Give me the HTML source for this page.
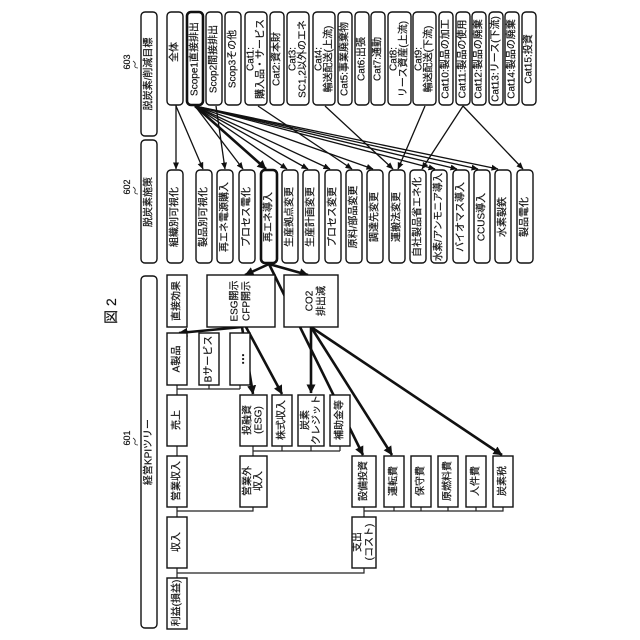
<!DOCTYPE html>
<html><head><meta charset="utf-8"><style>
html,body{margin:0;padding:0;background:#fff}
svg{display:block}
text{font-family:"Liberation Sans","Noto Sans CJK JP",sans-serif;font-size:10px;fill:#111;stroke:#111;stroke-width:.18;text-anchor:middle;dominant-baseline:central}
.r{fill:#fff;stroke:#111;stroke-width:1.4}
.s{fill:#fff;stroke:#111;stroke-width:1.4}
.c{fill:none;stroke:#222;stroke-width:1.2}
.a{fill:none;stroke:#111;stroke-width:1.3;marker-end:url(#m)}
.b{fill:none;stroke:#111;stroke-width:2.6;marker-end:url(#n)}
</style></head><body>
<svg width="640" height="640" viewBox="0 0 640 640" xmlns="http://www.w3.org/2000/svg">
<defs>
<marker id="m" markerUnits="userSpaceOnUse" markerWidth="7" markerHeight="6" refX="6.5" refY="3" orient="auto"><path d="M0 0L7 3L0 6Z" fill="#111"/></marker>
<marker id="n" markerUnits="userSpaceOnUse" markerWidth="9" markerHeight="9" refX="8.5" refY="4.5" orient="auto"><path d="M0 0L9 4.5L0 9Z" fill="#111"/></marker>
</defs>

<!-- connectors tree -->
<path class="c" d="M177 385V395M177 389H240M209 385V389M240 385V389M177 446V456M177 507V517M177 511H253V507M177 568V578M177 573H364V568"/>
<path class="c" d="M253 446V456M253 451H340M282 446V451M311 446V451M340 446V451"/>
<path class="c" d="M364 507V517M364 511H503V507M394 507V511M421 507V511M448 507V511M476 507V511"/>

<!-- arrows top -->
<path class="a" d="M176 105V169"/>
<path class="a" d="M176 106L203 169"/>
<path class="a" d="M216 106L225 169"/>
<path class="a" d="M195 106L243 169"/>
<path class="a" d="M195 106L287 169"/>
<path class="a" d="M195 106L308 169"/>
<path class="a" d="M195 106L330 169"/>
<path class="a" d="M195 106L373 169"/>
<path class="a" d="M258 106L352 169"/>
<path class="a" d="M325 106L393 169"/>
<path class="a" d="M425 106L398 169"/>
<path class="a" d="M463 106L422 169"/>
<path class="a" d="M463 106L523 169"/>
<path class="a" d="M195 106L435 169"/>
<path class="a" d="M195 106L457 169"/>
<path class="a" d="M195 106L478 169"/>
<path class="a" d="M195 106L498 169"/>
<path class="b" d="M195 106L266 169"/>
<!-- thick arrows -->
<path class="b" d="M269 264L245 275"/>
<path class="b" d="M269 264L308 275"/>
<path class="b" d="M269 264L363 455"/>
<path class="b" d="M311 327L392 455"/>
<path class="b" d="M311 327V393"/>
<path class="b" d="M311 327L502 455"/>
<path class="b" d="M242 327L179 333"/>
<path class="b" d="M242 327L253 394"/>
<path class="b" d="M246 327L282 394"/>

<!-- headers -->
<rect class="r" x="141" y="12" width="16" height="124" rx="4"/>
<rect class="r" x="141" y="140" width="16" height="123" rx="4"/>
<rect class="r" x="141" y="276" width="16" height="352" rx="4"/>
<text transform="translate(149,74) rotate(-90)">脱炭素/削減目標</text>
<text transform="translate(149,202) rotate(-90)">脱炭素施策</text>
<text transform="translate(149,452) rotate(-90)">経営KPIツリー</text>

<!-- numbers -->
<text transform="translate(127,62) rotate(-90)" style="font-size:9px">603</text>
<text transform="translate(127,187) rotate(-90)" style="font-size:9px">602</text>
<text transform="translate(127,438) rotate(-90)" style="font-size:9px">601</text>
<path class="c" style="stroke-width:.8" d="M133 61q3 2 2 4q-1 3 3 3M133 187q3 2 2 4q-1 3 3 3M133 438q3 2 2 4q-1 3 3 3"/>
<text transform="translate(111,311) rotate(-90)" style="font-size:14px">図 2</text>

<!-- top row -->
<rect class="r" x="167" y="12" width="16" height="93" rx="4"/><text transform="translate(175,52) rotate(-90)">全体</text>
<rect class="r" x="187" y="12" width="16" height="93" rx="4" style="stroke-width:2.6"/><text transform="translate(195,59) rotate(-90)">Scope1直接排出</text>
<rect class="r" x="206" y="12" width="16" height="93" rx="4"/><text transform="translate(214,59) rotate(-90)">Scop2間接排出</text>
<rect class="r" x="225" y="12" width="16" height="93" rx="4"/><text transform="translate(233,59) rotate(-90)">Scop3その他</text>
<rect class="r" x="245" y="12" width="22" height="93" rx="4"/><text transform="translate(251,59) rotate(-90)">Cat1:</text><text transform="translate(261,59) rotate(-90)">購入品・サービス</text>
<rect class="r" x="270" y="12" width="14" height="93" rx="4"/><text transform="translate(277,59) rotate(-90)">Cat2:資本財</text>
<rect class="r" x="287" y="12" width="22" height="93" rx="4"/><text transform="translate(293,59) rotate(-90)">Cat3:</text><text transform="translate(303,59) rotate(-90)">SC1,2以外のエネ</text>
<rect class="r" x="313" y="12" width="22" height="93" rx="4"/><text transform="translate(319,59) rotate(-90)">Cat4:</text><text transform="translate(329,59) rotate(-90)">輸送配送(上流)</text>
<rect class="r" x="338" y="12" width="14" height="93" rx="4"/><text transform="translate(345,59) rotate(-90)">Cat5:事業廃棄物</text>
<rect class="r" x="355" y="12" width="14" height="93" rx="4"/><text transform="translate(362,59) rotate(-90)">Cat6:出張</text>
<rect class="r" x="371" y="12" width="14" height="93" rx="4"/><text transform="translate(378,59) rotate(-90)">Cat7:通勤</text>
<rect class="r" x="388" y="12" width="23" height="93" rx="4"/><text transform="translate(394,59) rotate(-90)">Cat8:</text><text transform="translate(404,59) rotate(-90)">リース資産(上流)</text>
<rect class="r" x="413" y="12" width="23" height="93" rx="4"/><text transform="translate(419,59) rotate(-90)">Cat9:</text><text transform="translate(429,59) rotate(-90)">輸送配送(下流)</text>
<rect class="r" x="439" y="12" width="14" height="93" rx="4"/><text transform="translate(446,59) rotate(-90)">Cat10:製品の加工</text>
<rect class="r" x="456" y="12" width="14" height="93" rx="4"/><text transform="translate(463,59) rotate(-90)">Cat11:製品の使用</text>
<rect class="r" x="472" y="12" width="14" height="93" rx="4"/><text transform="translate(479,59) rotate(-90)">Cat12:製品の廃棄</text>
<rect class="r" x="489" y="12" width="14" height="93" rx="4"/><text transform="translate(496,59) rotate(-90)">Cat13:リース(下流)</text>
<rect class="r" x="505" y="12" width="14" height="93" rx="4"/><text transform="translate(512,59) rotate(-90)">Cat14:製品の廃棄</text>
<rect class="r" x="522" y="12" width="14" height="93" rx="4"/><text transform="translate(529,59) rotate(-90)">Cat15:投資</text>

<!-- middle row -->
<rect class="r" x="167" y="170" width="16" height="93" rx="4"/><text transform="translate(175,217) rotate(-90)">組織別可視化</text>
<rect class="r" x="196" y="170" width="16" height="93" rx="4"/><text transform="translate(204,217) rotate(-90)">製品別可視化</text>
<rect class="r" x="217" y="170" width="16" height="93" rx="4"/><text transform="translate(225,217) rotate(-90)">再エネ電源購入</text>
<rect class="r" x="239" y="170" width="16" height="93" rx="4"/><text transform="translate(247,217) rotate(-90)">プロセス電化</text>
<rect class="r" x="261" y="170" width="16" height="93" rx="4" style="stroke-width:2.6"/><text transform="translate(269,217) rotate(-90)">再エネ導入</text>
<rect class="r" x="282" y="170" width="16" height="93" rx="4"/><text transform="translate(290,217) rotate(-90)">生産拠点変更</text>
<rect class="r" x="303" y="170" width="16" height="93" rx="4"/><text transform="translate(311,217) rotate(-90)">生産計画変更</text>
<rect class="r" x="325" y="170" width="16" height="93" rx="4"/><text transform="translate(333,217) rotate(-90)">プロセス変更</text>
<rect class="r" x="346" y="170" width="16" height="93" rx="4"/><text transform="translate(354,217) rotate(-90)">原料/部品変更</text>
<rect class="r" x="367" y="170" width="16" height="93" rx="4"/><text transform="translate(375,217) rotate(-90)">調達先変更</text>
<rect class="r" x="389" y="170" width="16" height="93" rx="4"/><text transform="translate(397,217) rotate(-90)">運搬法変更</text>
<rect class="r" x="410" y="170" width="16" height="93" rx="4"/><text transform="translate(418,217) rotate(-90)">自社製品省エネ化</text>
<rect class="r" x="431" y="170" width="16" height="93" rx="4"/><text transform="translate(439,217) rotate(-90)" textLength="88" lengthAdjust="spacingAndGlyphs">水素/アンモニア導入</text>
<rect class="r" x="453" y="170" width="16" height="93" rx="4"/><text transform="translate(461,217) rotate(-90)">バイオマス導入</text>
<rect class="r" x="474" y="170" width="16" height="93" rx="4"/><text transform="translate(482,217) rotate(-90)">CCUS導入</text>
<rect class="r" x="495" y="170" width="16" height="93" rx="4"/><text transform="translate(503,217) rotate(-90)">水素製鉄</text>
<rect class="r" x="517" y="170" width="16" height="93" rx="4"/><text transform="translate(525,217) rotate(-90)">製品電化</text>

<!-- effects row -->
<rect class="s" x="167" y="275" width="20" height="52"/><text transform="translate(177,301) rotate(-90)">直接効果</text>
<rect class="s" x="207" y="275" width="68" height="52"/><text transform="translate(235,301) rotate(-90)">ESG開示</text><text transform="translate(247,301) rotate(-90)">CFP開示</text>
<rect class="s" x="284" y="275" width="54" height="52"/><text transform="translate(310,301) rotate(-90)">CO2</text><text transform="translate(322,301) rotate(-90)">排出減</text>

<rect class="s" x="167" y="333" width="20" height="52"/><text transform="translate(177,359) rotate(-90)">A製品</text>
<rect class="s" x="199" y="333" width="20" height="52"/><text transform="translate(209,359) rotate(-90)">Bサービス</text>
<rect class="s" x="230" y="333" width="20" height="52"/><text transform="translate(240,359) rotate(-90)" style="font-size:12px;font-weight:bold">…</text>

<rect class="s" x="167" y="395" width="20" height="51"/><text transform="translate(177,420) rotate(-90)">売上</text>
<rect class="s" x="240" y="395" width="27" height="51"/><text transform="translate(248,420) rotate(-90)">投融資</text><text transform="translate(259,420) rotate(-90)">(ESG)</text>
<rect class="s" x="272" y="395" width="20" height="51"/><text transform="translate(282,420) rotate(-90)">株式収入</text>
<rect class="s" x="298" y="395" width="26" height="51"/><text transform="translate(306,420) rotate(-90)">炭素</text><text transform="translate(317,420) rotate(-90)">クレジット</text>
<rect class="s" x="330" y="395" width="20" height="51"/><text transform="translate(340,420) rotate(-90)">補助金等</text>

<rect class="s" x="167" y="456" width="20" height="51"/><text transform="translate(177,481) rotate(-90)">営業収入</text>
<rect class="s" x="240" y="456" width="27" height="51"/><text transform="translate(248,481) rotate(-90)">営業外</text><text transform="translate(259,481) rotate(-90)">収入</text>
<rect class="s" x="352" y="456" width="24" height="51"/><text transform="translate(364,481) rotate(-90)">設備投資</text>
<rect class="s" x="384" y="456" width="20" height="51"/><text transform="translate(394,481) rotate(-90)">運転費</text>
<rect class="s" x="411" y="456" width="20" height="51"/><text transform="translate(421,481) rotate(-90)">保守費</text>
<rect class="s" x="438" y="456" width="20" height="51"/><text transform="translate(448,481) rotate(-90)">原燃料費</text>
<rect class="s" x="466" y="456" width="20" height="51"/><text transform="translate(476,481) rotate(-90)">人件費</text>
<rect class="s" x="493" y="456" width="20" height="51"/><text transform="translate(503,481) rotate(-90)">炭素税</text>

<rect class="s" x="167" y="517" width="20" height="51"/><text transform="translate(177,542) rotate(-90)">収入</text>
<rect class="s" x="352" y="517" width="24" height="51"/><text transform="translate(358,542) rotate(-90)">支出</text><text transform="translate(370,542) rotate(-90)">(コスト)</text>
<rect class="s" x="167" y="578" width="20" height="51"/><text transform="translate(177,603) rotate(-90)">利益(損益)</text>
</svg>
</body></html>
